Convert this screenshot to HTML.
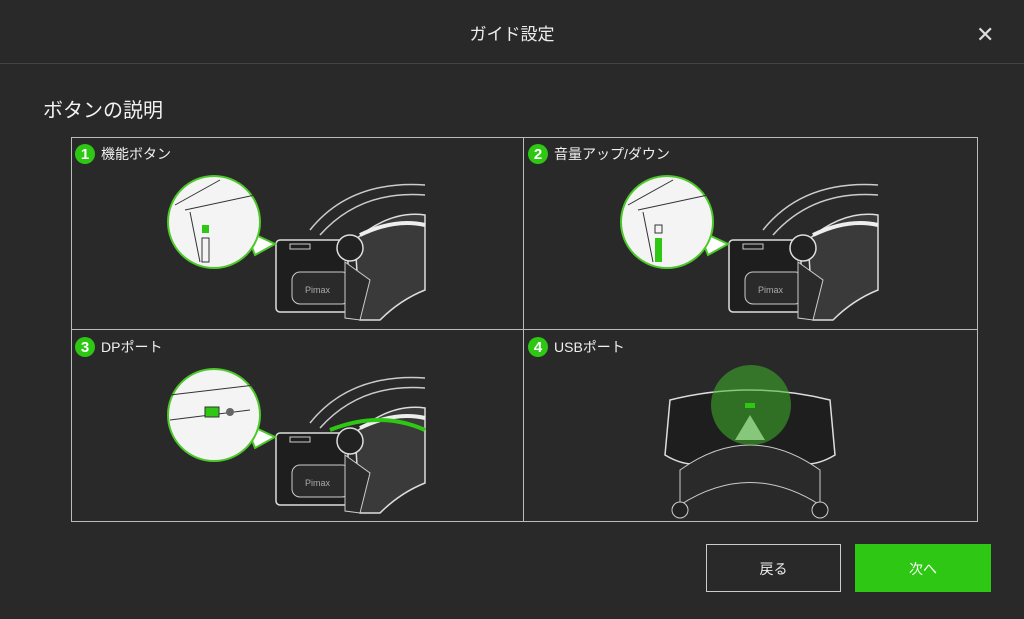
<!DOCTYPE html>
<html><head><meta charset="utf-8"><style>
body{margin:0;width:1024px;height:619px;background:#292929;font-family:"Liberation Sans","Noto Sans CJK JP",sans-serif;color:#eee;overflow:hidden;position:relative}
.t{position:absolute}
.lbl{position:absolute;font-size:14px;color:#f0f0f0;display:flex;align-items:center;gap:6px}
.num{width:20px;height:20px;border-radius:50%;background:#2ec814;color:#fff;font-size:15px;font-weight:bold;display:flex;align-items:center;justify-content:center}
</style></head><body>
<div class="t" style="left:0;width:1024px;top:20px;text-align:center;font-size:17px">ガイド設定</div>
<div class="t" style="left:976px;top:22px;font-size:22px;color:#ddd">✕</div>
<div class="t" style="left:0;top:63px;width:1024px;height:1px;background:#444"></div>
<div class="t" style="left:43px;top:94px;font-size:20px;color:#f2f2f2">ボタンの説明</div>
<svg class="t" style="left:0;top:0" width="1024" height="619">
<defs>
<g id="hs">
 <path d="M310 230 Q350 180 425 185 M320 235 Q360 190 425 195" stroke="#ccc" fill="none" stroke-width="1.5"/>
 <path d="M355 240 Q390 210 425 215 L425 290 Q400 300 380 320 L360 320 Z" fill="#3a3a3a" stroke="#ddd" stroke-width="1.5"/>
 <path d="M360 235 Q395 218 425 225" stroke="#eee" stroke-width="4" fill="none"/>
 <rect x="276" y="240" width="72" height="72" rx="4" fill="#1e1e1e" stroke="#ddd" stroke-width="1.5"/>
 <rect x="292" y="272" width="58" height="32" rx="8" fill="#2a2a2a" stroke="#ccc"/>
 <text x="305" y="293" font-size="9" fill="#aaa" font-family="Liberation Sans">Pimax</text>
 <circle cx="350" cy="248" r="13" fill="#222" stroke="#ddd" stroke-width="1.5"/>
 <path d="M345 262 L370 280 L360 320 L345 318 Z" fill="#2a2a2a" stroke="#ccc"/>
 <rect x="290" y="244" width="20" height="5" fill="none" stroke="#ccc"/>
</g>
</defs>
<rect x="71.5" y="137.5" width="906" height="384" fill="none" stroke="#bbb"/>
<line x1="523.5" y1="137" x2="523.5" y2="522" stroke="#bbb"/>
<line x1="71" y1="329.5" x2="978" y2="329.5" stroke="#bbb"/>
<!-- cell1 -->
<use href="#hs"/>
<path d="M245 230 L275 244 L255 255 Z" fill="#fff" stroke="#4cc82a" stroke-width="2"/>
<circle cx="214" cy="222" r="46" fill="#f4f4f4" stroke="#4cc82a" stroke-width="2"/>
<path d="M175 205 L220 180 M185 210 L255 195 M190 212 L200 262" stroke="#333" fill="none"/>
<rect x="202" y="225" width="7" height="8" fill="#2ec814"/><rect x="202" y="238" width="7" height="24" fill="none" stroke="#333"/>
<!-- cell2 -->
<use href="#hs" transform="translate(453,0)"/>
<path d="M698 230 L728 244 L708 255 Z" fill="#fff" stroke="#4cc82a" stroke-width="2"/>
<circle cx="667" cy="222" r="46" fill="#f4f4f4" stroke="#4cc82a" stroke-width="2"/>
<path d="M628 205 L673 180 M638 210 L708 195 M643 212 L653 262" stroke="#333" fill="none"/>
<rect x="655" y="225" width="7" height="8" fill="none" stroke="#333"/><rect x="655" y="238" width="7" height="24" fill="#2ec814"/>
<!-- cell3 -->
<use href="#hs" transform="translate(0,193)"/>
<path d="M330 430 Q380 410 425 430" stroke="#2ec814" stroke-width="4" fill="none"/>
<path d="M245 423 L275 437 L255 448 Z" fill="#fff" stroke="#4cc82a" stroke-width="2"/>
<circle cx="214" cy="415" r="46" fill="#f4f4f4" stroke="#4cc82a" stroke-width="2"/>
<path d="M170 395 L255 385 M170 420 L250 410" stroke="#333" fill="none"/>
<rect x="205" y="407" width="14" height="10" fill="#2ec814" stroke="#333"/><circle cx="230" cy="412" r="4" fill="#666"/>
<!-- cell4 -->
<path d="M670 400 Q750 380 830 400 L835 455 Q810 470 790 460 Q750 440 710 460 Q690 470 665 455 Z" fill="#1e1e1e" stroke="#ddd" stroke-width="1.5"/>
<path d="M680 470 Q750 420 820 470 L820 505 Q750 460 680 505 Z" fill="#2a2a2a" stroke="#ccc"/>
<circle cx="680" cy="510" r="8" fill="#222" stroke="#ccc"/><circle cx="820" cy="510" r="8" fill="#222" stroke="#ccc"/>
<path d="M735 440 L750 415 L765 440 Z" fill="#ddd"/>
<circle cx="751" cy="405" r="40" fill="#3fb52a" fill-opacity="0.55"/>
<rect x="745" y="403" width="10" height="5" fill="#2ec814"/>
<!-- buttons -->
<rect x="706.5" y="544.5" width="134" height="47" fill="none" stroke="#ccc"/>
<rect x="855" y="544" width="136" height="48" fill="#2ec814"/>
</svg>
<div class="lbl" style="left:75px;top:144px"><span class="num">1</span>機能ボタン</div>
<div class="lbl" style="left:528px;top:144px"><span class="num">2</span>音量アップ/ダウン</div>
<div class="lbl" style="left:75px;top:337px"><span class="num">3</span>DPポート</div>
<div class="lbl" style="left:528px;top:337px"><span class="num">4</span>USBポート</div>
<div class="t" style="left:706px;width:135px;top:559px;text-align:center;font-size:14px">戻る</div>
<div class="t" style="left:855px;width:136px;top:559px;text-align:center;font-size:14px;color:#fff">次へ</div>
</body></html>
